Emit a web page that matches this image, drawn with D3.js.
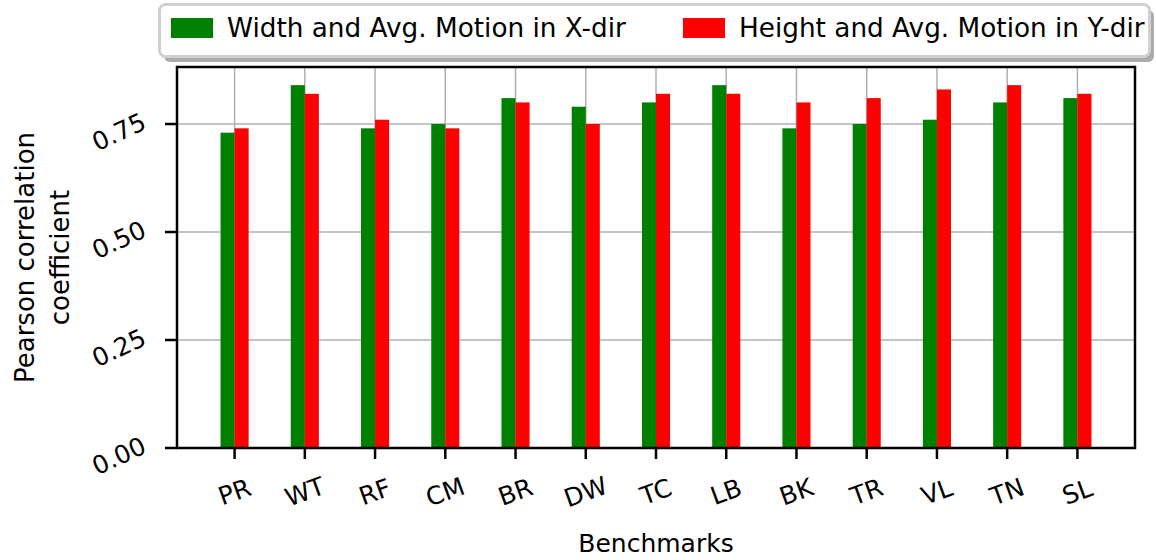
<!DOCTYPE html>
<html>
<head>
<meta charset="utf-8">
<script src="https://cdn.jsdelivr.net/npm/d3@7"></script>
<style>
  html, body { margin: 0; padding: 0; background: #fff; }
  svg { display: block; }
  text { font-family: "Comic Sans MS", "DejaVu Sans", sans-serif; fill: #000; }
</style>
</head>
<body>
<svg id="chart" width="1156" height="560"></svg>
<script>
// Benchmarks on the x axis
const categories = ["PR", "WT", "RF", "CM", "BR", "DW", "TC", "LB", "BK", "TR", "VL", "TN", "SL"];
// Pearson correlation: width vs. average motion in x direction
const widthX = [0.73, 0.84, 0.74, 0.75, 0.81, 0.79, 0.80, 0.84, 0.74, 0.75, 0.76, 0.80, 0.81];
// Pearson correlation: height vs. average motion in y direction
const heightY = [0.74, 0.82, 0.76, 0.74, 0.80, 0.75, 0.82, 0.82, 0.80, 0.81, 0.83, 0.84, 0.82];
const yTicks = [0, 0.25, 0.5, 0.75];
const seriesNames = ["Width and Avg. Motion in X-dir", "Height and Avg. Motion in Y-dir"];
const seriesColors = ["#008000", "#ff0000"];

const svg = d3.select("#chart");
const plotL = 177, plotR = 1135, plotT = 67, plotB = 448;
const barW = 0.2;

const x = d3.scaleLinear()
  .domain([-0.82, categories.length - 1 + 0.82])
  .range([plotL, plotR]);
const y = d3.scaleLinear()
  .domain([0, 0.882])
  .range([plotB, plotT]);

// grid
const grid = svg.append("g").attr("stroke", "#b0b0b0").attr("stroke-width", 1.5);
grid.selectAll("line.h").data(yTicks).join("line")
  .attr("x1", plotL).attr("x2", plotR)
  .attr("y1", d => y(d)).attr("y2", d => y(d));
grid.selectAll("line.v").data(categories).join("line")
  .attr("x1", (d, i) => x(i)).attr("x2", (d, i) => x(i))
  .attr("y1", plotT).attr("y2", plotB);

// bars
const series = [widthX, heightY];
series.forEach((vals, s) => {
  svg.append("g").selectAll("rect").data(vals).join("rect")
    .attr("x", (d, i) => x(i + (s === 0 ? -barW : 0)))
    .attr("width", x(barW) - x(0))
    .attr("y", d => y(d))
    .attr("height", d => y(0) - y(d))
    .attr("fill", seriesColors[s]);
});

// axes frame
svg.append("rect")
  .attr("x", plotL).attr("y", plotT)
  .attr("width", plotR - plotL).attr("height", plotB - plotT)
  .attr("fill", "none").attr("stroke", "#000").attr("stroke-width", 2.5);

// y ticks
const yAxis = svg.append("g");
yAxis.selectAll("line").data(yTicks).join("line")
  .attr("x1", plotL - 12).attr("x2", plotL)
  .attr("y1", d => y(d)).attr("y2", d => y(d))
  .attr("stroke", "#000").attr("stroke-width", 2.5);
yAxis.selectAll("text").data(yTicks).join("text")
  .attr("transform", d => `translate(119,${y(d) + 8}) rotate(-25)`)
  .attr("text-anchor", "middle")
  .attr("dominant-baseline", "central")
  .attr("font-size", 25)
  .text(d => d3.format(".2f")(d));

// x ticks
const xAxis = svg.append("g");
xAxis.selectAll("line").data(categories).join("line")
  .attr("x1", (d, i) => x(i)).attr("x2", (d, i) => x(i))
  .attr("y1", plotB).attr("y2", plotB + 11)
  .attr("stroke", "#000").attr("stroke-width", 2.5);
xAxis.selectAll("text").data(categories).join("text")
  .attr("transform", (d, i) => `translate(${x(i)},492) rotate(-20)`)
  .attr("text-anchor", "middle")
  .attr("dominant-baseline", "central")
  .attr("font-size", 25)
  .text(d => d);

// axis titles
svg.append("text")
  .attr("x", (plotL + plotR) / 2).attr("y", 552)
  .attr("text-anchor", "middle")
  .attr("font-size", 25)
  .text("Benchmarks");
const yTitle = svg.append("text")
  .attr("transform", `translate(0,${(plotT + plotB) / 2}) rotate(-90)`)
  .attr("text-anchor", "middle")
  .attr("font-size", 26);
yTitle.append("tspan").attr("x", 0).attr("y", 34).text("Pearson correlation");
yTitle.append("tspan").attr("x", 0).attr("y", 69).text("coefficient");

// legend
const lg = svg.append("g");
lg.append("rect")
  .attr("x", 164).attr("y", 10).attr("width", 990).attr("height", 52)
  .attr("rx", 6).attr("fill", "#aaaaaa");
lg.append("rect")
  .attr("x", 159.5).attr("y", 4.5).attr("width", 990).attr("height", 52)
  .attr("rx", 6).attr("fill", "#fff").attr("stroke", "#d0d0d0").attr("stroke-width", 3);
const legendX = [171, 683];
seriesNames.forEach((name, s) => {
  lg.append("rect")
    .attr("x", legendX[s]).attr("y", 18).attr("width", 42).attr("height", 20)
    .attr("fill", seriesColors[s]);
  lg.append("text")
    .attr("x", legendX[s] + 56).attr("y", 28)
    .attr("dominant-baseline", "central")
    .attr("font-size", 26.3)
    .text(name);
});
</script>
</body>
</html>
